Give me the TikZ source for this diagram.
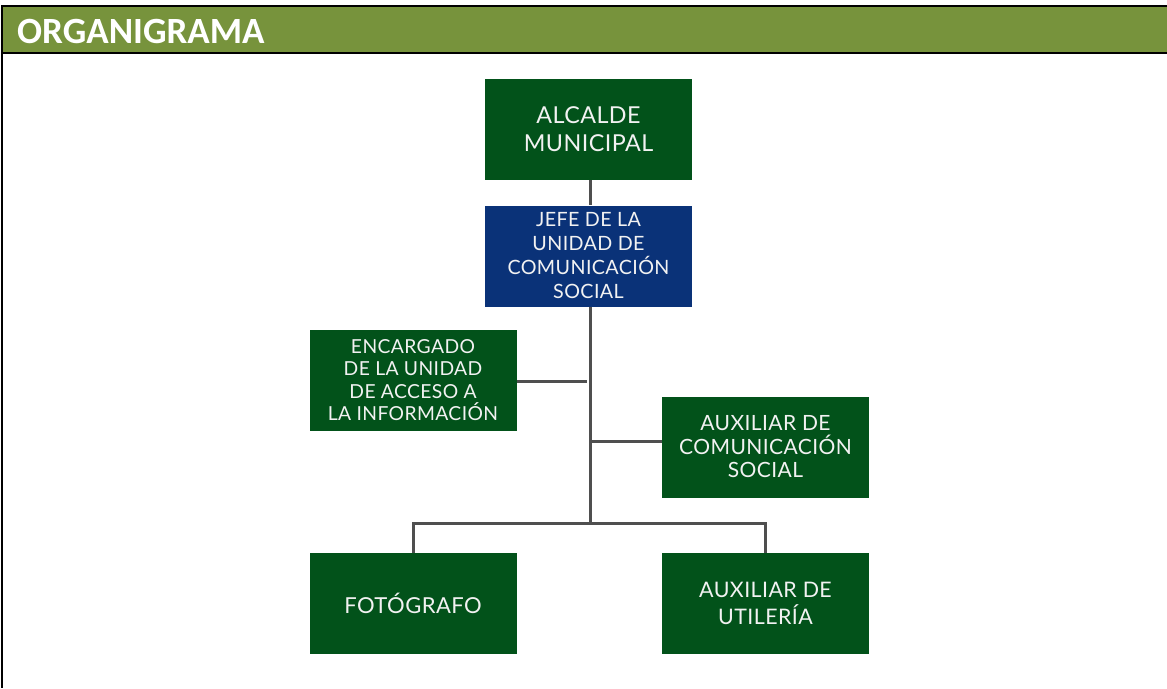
\documentclass[tikz,border=0pt]{standalone}
\usepackage{fontspec}
\setmainfont{Lato}[LetterSpace=2]
\newfontfamily\headfont{Carlito}
\definecolor{hdrgreen}{HTML}{77933C}
\definecolor{boxgreen}{HTML}{02521A}
\definecolor{boxblue}{HTML}{0A3278}
\definecolor{linegray}{HTML}{4F4F4F}
\definecolor{txtwhite}{HTML}{F2F2F2}
\tikzset{
  orgbox/.style={fill=boxgreen, draw=none, minimum width=207pt, minimum height=101pt,
    inner sep=0pt, align=center, text=txtwhite, font=\fontsize{19.7}{24}\selectfont},
  bluebox/.style={orgbox, fill=boxblue},
  link/.style={draw=linegray, line width=3pt},
}
\begin{document}
\begin{tikzpicture}[x=1pt,y=-1pt]
\useasboundingbox (0,0) rectangle (1167,688);
% header band
\fill[hdrgreen] (2,6) rectangle (1167,53);
\draw[line width=2.5pt,black] (1167,6) -- (2,6) -- (2,688);
\draw[line width=2.5pt,black] (2,53) -- (1167,53);
\node[anchor=west, text=white, font=\headfont\bfseries\fontsize{37}{40}\selectfont, inner sep=0pt] (title) at (17,31) {ORGANIGRAMA};
% boxes
\node[orgbox, font=\fontsize{23.3}{28}\selectfont] (alc) at (588.5,129.5) {ALCALDE\\MUNICIPAL};
\node[bluebox] (jefe) at (588.5,256) {JEFE DE LA\\UNIDAD DE\\COMUNICACI\'ON\\SOCIAL};
\node[orgbox, font=\fontsize{19.3}{22.5}\selectfont] (enc) at (413,380) {ENCARGADO\\DE LA UNIDAD\\DE ACCESO A\\LA INFORMACI\'ON};
\node[orgbox, font=\fontsize{21}{23.5}\selectfont] (auxc) at (765.5,447) {AUXILIAR DE\\COMUNICACI\'ON\\SOCIAL};
\node[orgbox, font=\fontsize{22}{26}\selectfont] (foto) at (413,603.5) {FOT\'OGRAFO};
\node[orgbox, font=\fontsize{21.4}{27}\selectfont] (auxu) at (765.5,603.5) {AUXILIAR DE\\UTILER\'IA};
% connectors
\coordinate (bus) at (590,523);
\coordinate (encend) at (587,381);
\coordinate (auxcjoin) at (590,441);
\draw[link] (alc.south -| bus) -- (jefe.north -| bus);
\draw[link] (jefe.south -| bus) -- (bus);
\draw[link] (enc.east |- encend) -- (encend);
\draw[link] (auxcjoin) -- (auxc.west |- auxcjoin);
\draw[link] (foto.north) -- (foto.north |- bus) -- (auxu.north |- bus) -- (auxu.north);
\end{tikzpicture}
\end{document}
